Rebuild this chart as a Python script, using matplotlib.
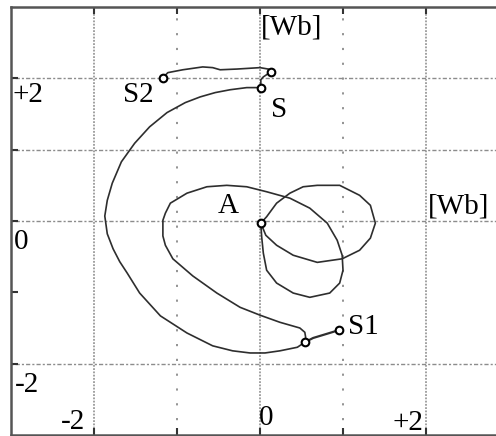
import matplotlib
matplotlib.use("Agg")
import matplotlib.pyplot as plt

# flux trajectory (Wb)
top_x = [-1.17, -1.11, -0.93, -0.69, -0.57, -0.48, -0.28, 0.00, 0.10, 0.13, 0.04, 0.01, 0.01]
top_y = [2.01, 2.08, 2.12, 2.16, 2.15, 2.12, 2.13, 2.15, 2.13, 2.09, 2.02, 1.98, 1.87]

arc_x = [0.01, -0.16, -0.36, -0.54, -0.72, -0.90, -1.12, -1.33, -1.51, -1.67, -1.78, -1.84, -1.87,
         -1.84, -1.77, -1.69, -1.60, -1.45, -1.20, -0.88, -0.57, -0.33, -0.12, 0.06, 0.24, 0.45, 0.54]
arc_y = [1.87, 1.87, 1.84, 1.80, 1.74, 1.66, 1.52, 1.32, 1.09, 0.83, 0.53, 0.29, 0.07,
         -0.18, -0.39, -0.57, -0.73, -1.01, -1.33, -1.57, -1.75, -1.82, -1.85, -1.85, -1.82, -1.77, -1.70]

s1_x = [0.54, 0.64, 0.81, 0.95]
s1_y = [-1.70, -1.64, -1.58, -1.53]

inner_x = [0.54, 0.55, 0.54, 0.48, 0.24, 0.00, -0.24, -0.52, -0.81, -1.05, -1.14, -1.17, -1.17, -1.14,
           -1.08, -0.88, -0.64, -0.40, -0.16, 0.08, 0.36, 0.60, 0.81, 0.93, 0.99, 1.00, 0.96, 0.84,
           0.60, 0.40, 0.20, 0.08, 0.04, 0.02, 0.01]
inner_y = [-1.70, -1.63, -1.56, -1.50, -1.42, -1.32, -1.21, -1.01, -0.77, -0.53, -0.34, -0.21, 0.01, 0.11,
           0.25, 0.39, 0.48, 0.50, 0.48, 0.41, 0.32, 0.18, -0.03, -0.27, -0.48, -0.69, -0.87, -1.01,
           -1.07, -1.01, -0.87, -0.69, -0.45, -0.22, -0.03]

loop_x = [0.01, 0.08, 0.20, 0.36, 0.52, 0.69, 0.96, 1.20, 1.33, 1.39, 1.33, 1.20, 0.99, 0.69, 0.40, 0.20, 0.07, 0.01]
loop_y = [-0.03, 0.06, 0.25, 0.39, 0.48, 0.50, 0.50, 0.36, 0.22, -0.03, -0.24, -0.41, -0.53, -0.58, -0.48, -0.34, -0.20, -0.03]

# marked points: S2, corner, S, A, knee, S1
mark_x = [-1.17, 0.13, 0.01, 0.01, 0.54, 0.95]
mark_y = [2.01, 2.09, 1.87, -0.03, -1.70, -1.53]

plt.rcParams['font.family'] = ['Liberation Serif', 'DejaVu Serif']

fig = plt.figure(figsize=(4.96, 4.36), dpi=100)
ax = fig.add_axes([11 / 496, 1 / 436, 485 / 496, 428 / 436])
ax.set_xlim(-3, -3 + 485 / 83)
ax.set_ylim(-3, 3)

# oscilloscope style grid
for y in [2, 1, 0, -2]:
    ax.axhline(y, color="#8c8c8c", linewidth=1.0, linestyle=(0, (1.5, 1.5, 3, 1.5)), zorder=1)
for x in [-2, 0, 2]:
    ax.axvline(x, color="#9a9a9a", linewidth=1.3, linestyle=(0, (1, 0.8)), zorder=1)
for x in [-1, 1]:
    ax.axvline(x, color="#8a8a8a", linewidth=1.3, linestyle=(0, (1.2, 7)), zorder=1)

lc = "#2e2e2e"
ax.plot(top_x, top_y, color=lc, linewidth=1.2, zorder=3)
ax.plot(arc_x, arc_y, color=lc, linewidth=1.2, zorder=3)
ax.plot(s1_x, s1_y, color=lc, linewidth=1.6, zorder=3)
ax.plot(inner_x, inner_y, color=lc, linewidth=1.2, zorder=3)
ax.plot(loop_x, loop_y, color=lc, linewidth=1.2, zorder=3)
ax.plot(mark_x, mark_y, linestyle="none", marker="o", markersize=5.5,
        markerfacecolor="white", markeredgecolor="black", markeredgewidth=1.5, zorder=4)

fs = 21
ax.text(-2.976, 1.67, "+2", fontsize=fs, ha="left", va="baseline")
ax.text(-2.964, -0.39, "0", fontsize=fs, ha="left", va="baseline")
ax.text(-2.95, -2.40, "-2", fontsize=fs, ha="left", va="baseline")
ax.text(-2.40, -2.92, "-2", fontsize=fs, ha="left", va="baseline")
ax.text(-0.01, -2.86, "0", fontsize=fs, ha="left", va="baseline")
ax.text(1.60, -2.93, "+2", fontsize=fs, ha="left", va="baseline")
ax.text(0.01, 2.62, "[Wb]", fontsize=fs, ha="left", va="baseline")
ax.text(2.02, 0.11, "[Wb]", fontsize=fs, ha="left", va="baseline")
ax.text(-1.65, 1.67, "S2", fontsize=fs, ha="left", va="baseline")
ax.text(0.13, 1.46, "S", fontsize=fs, ha="left", va="baseline")
ax.text(-0.51, 0.11, "A", fontsize=fs, ha="left", va="baseline")
ax.text(1.06, -1.58, "S1", fontsize=fs, ha="left", va="baseline")

ax.set_xticks([-2, -1, 0, 1, 2])
ax.set_yticks([-2, -1, 0, 1, 2])
ax.tick_params(direction="in", length=5, width=1.5, color="#333333",
               labelbottom=False, labelleft=False, top=True)
ax.spines["right"].set_visible(False)
for side in ["left", "top", "bottom"]:
    ax.spines[side].set_color("#555555")
    ax.spines[side].set_linewidth(1.8)

fig.savefig("out.png", dpi=100)
